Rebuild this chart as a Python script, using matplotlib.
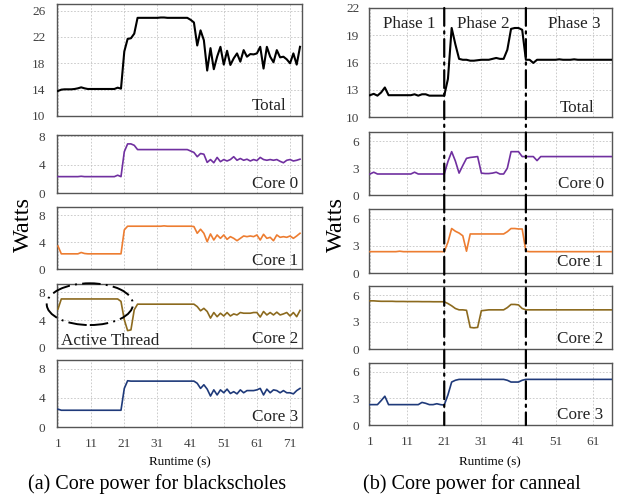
import matplotlib
matplotlib.use("Agg")
import matplotlib.pyplot as plt
from matplotlib.patches import Ellipse, ConnectionPatch

plt.rcParams['font.family'] = ['Liberation Serif', 'DejaVu Serif']

# ---- data: blackscholes (1 sample per second) ----
bs_time = list(range(1, 75))
bs_total = [13.8, 14.0, 14.05, 14.05, 14.05, 14.1, 14.2, 14.35, 14.2, 14.1,
            14.1, 14.1, 14.1, 14.1, 14.1, 14.1, 14.1, 14.1, 14.3, 14.15,
            19.8, 21.7, 21.8, 22.5, 24.9, 24.9, 24.9, 24.9, 24.9, 24.9,
            24.9, 24.95, 24.95, 24.9, 24.9, 24.9, 24.9, 24.9, 24.9, 24.9,
            24.6, 24.2, 20.7, 23.0, 21.5, 16.9, 20.3, 17.1, 19.0, 20.5,
            17.8, 19.9, 17.75, 18.75, 19.5, 18.25, 20.0, 19.0, 19.4, 19.35,
            19.5, 20.5, 17.2, 20.5, 19.0, 18.15, 20.0, 18.9, 19.0, 18.6,
            18.0, 19.5, 17.8, 20.5]
bs_core0 = [2.3, 2.3, 2.3, 2.3, 2.3, 2.3, 2.3, 2.35, 2.3, 2.3,
            2.3, 2.3, 2.3, 2.3, 2.3, 2.3, 2.3, 2.3, 2.5, 2.3,
            5.8, 6.9, 6.9, 6.7, 6.1, 6.1, 6.1, 6.1, 6.1, 6.1,
            6.1, 6.1, 6.1, 6.1, 6.1, 6.1, 6.1, 6.1, 6.1, 6.1,
            5.9, 5.7, 5.1, 5.55, 5.45, 4.3, 4.7, 4.25, 5.0, 4.4,
            4.7, 4.5, 4.7, 5.1, 4.6, 4.85, 4.6, 4.75, 4.5, 4.7,
            4.55, 5.0, 4.7, 4.6, 4.7, 4.6, 4.7, 4.45, 4.25, 4.6,
            4.7, 4.5, 4.6, 4.75]
bs_core1 = [3.4, 2.25, 2.25, 2.25, 2.25, 2.25, 2.25, 2.45, 2.3, 2.25,
            2.25, 2.25, 2.25, 2.25, 2.25, 2.25, 2.25, 2.25, 2.25, 2.25,
            5.8, 6.35, 6.35, 6.35, 6.35, 6.35, 6.35, 6.35, 6.35, 6.35,
            6.35, 6.35, 6.4, 6.35, 6.35, 6.35, 6.35, 6.35, 6.35, 6.35,
            6.35, 6.3, 5.3, 5.9, 5.3, 4.05, 5.2, 4.3, 5.05, 4.55,
            5.05, 4.4, 4.8, 4.55, 4.2, 4.55, 4.9, 4.8, 4.9, 4.8,
            5.05, 4.3, 5.15, 4.55, 4.7, 4.2, 5.05, 4.7, 4.8, 4.7,
            4.9, 4.55, 4.9, 5.3]
bs_core2 = [5.6, 7.05, 7.05, 7.05, 7.05, 7.05, 7.05, 7.05, 7.05, 7.05,
            7.05, 7.05, 7.05, 7.05, 7.05, 7.05, 7.05, 7.05, 7.05, 6.7,
            4.05, 2.5, 2.6, 5.5, 6.3, 6.3, 6.3, 6.3, 6.3, 6.3,
            6.3, 6.3, 6.3, 6.3, 6.3, 6.3, 6.3, 6.3, 6.3, 6.3,
            6.3, 6.3, 5.95, 5.35, 5.7, 5.25, 4.3, 5.1, 4.5, 5.0,
            4.6, 5.1, 4.6, 4.9, 4.75, 5.1, 5.0, 5.0, 5.0, 5.1,
            5.1, 4.45, 5.25, 4.75, 5.1, 4.75, 5.15, 4.75, 4.9, 5.1,
            4.6, 5.1, 4.5, 5.4]
bs_core3 = [2.45, 2.3, 2.3, 2.3, 2.3, 2.3, 2.3, 2.3, 2.3, 2.3,
            2.3, 2.3, 2.3, 2.3, 2.3, 2.3, 2.3, 2.3, 2.3, 2.3,
            5.3, 6.35, 6.3, 6.3, 6.3, 6.3, 6.3, 6.3, 6.3, 6.3,
            6.3, 6.3, 6.3, 6.3, 6.3, 6.3, 6.3, 6.3, 6.3, 6.3,
            6.3, 6.3, 6.0, 5.3, 5.8, 5.2, 4.25, 5.1, 4.4, 5.1,
            4.7, 5.2, 4.6, 4.85, 4.55, 5.1, 4.7, 5.0, 5.0, 5.0,
            5.1, 5.3, 4.4, 5.2, 4.7, 5.1, 5.0, 4.7, 5.0, 4.7,
            4.7, 4.55, 5.0, 5.3]

# ---- data: canneal ----
cn_time = list(range(1, 67))
cn_total = [12.4, 12.55, 12.35, 12.7, 13.25, 12.4, 12.4, 12.4, 12.4, 12.4,
            12.4, 12.4, 12.5, 12.35, 12.5, 12.5, 12.35, 12.35, 12.35, 12.35,
            12.35, 14.2, 19.8, 18.0, 16.4, 16.3, 16.3, 16.2, 16.2, 16.25,
            16.3, 16.3, 16.3, 16.4, 16.5, 16.4, 16.4, 17.4, 19.7, 19.8,
            19.8, 19.6, 16.3, 16.3, 15.95, 16.3, 16.3, 16.3, 16.3, 16.3,
            16.3, 16.35, 16.3, 16.3, 16.3, 16.35, 16.3, 16.3, 16.3, 16.3,
            16.3, 16.3, 16.3, 16.3, 16.3, 16.3]
cn_core0 = [2.35, 2.55, 2.35, 2.35, 2.35, 2.35, 2.35, 2.35, 2.35, 2.35,
            2.35, 2.35, 2.55, 2.35, 2.35, 2.35, 2.35, 2.35, 2.35, 2.35,
            2.35, 3.75, 4.85, 3.8, 2.45, 3.3, 4.1, 4.2, 4.25, 4.3,
            2.45, 2.4, 2.4, 2.45, 2.55, 2.35, 2.35, 3.0, 4.85, 4.85,
            4.85, 4.3, 4.3, 4.3, 4.3, 3.85, 4.3, 4.3, 4.3, 4.3,
            4.3, 4.3, 4.3, 4.3, 4.3, 4.3, 4.3, 4.3, 4.3, 4.3,
            4.3, 4.3, 4.3, 4.3, 4.3, 4.3]
cn_core1 = [2.35, 2.35, 2.35, 2.35, 2.35, 2.35, 2.35, 2.35, 2.4, 2.35,
            2.35, 2.35, 2.35, 2.35, 2.35, 2.35, 2.35, 2.35, 2.35, 2.35,
            2.35, 3.4, 4.9, 4.6, 4.4, 4.1, 2.4, 4.3, 4.3, 4.3,
            4.3, 4.3, 4.3, 4.3, 4.3, 4.3, 4.3, 4.55, 4.9, 4.9,
            4.85, 4.85, 2.4, 2.35, 2.35, 2.35, 2.35, 2.35, 2.35, 2.35,
            2.35, 2.35, 2.35, 2.35, 2.35, 2.35, 2.35, 2.35, 2.35, 2.35,
            2.35, 2.35, 2.35, 2.35, 2.35, 2.35]
cn_core2 = [5.35, 5.35, 5.32, 5.3, 5.3, 5.3, 5.3, 5.28, 5.28, 5.28,
            5.27, 5.27, 5.27, 5.27, 5.26, 5.26, 5.26, 5.25, 5.25, 5.25,
            5.25, 5.05, 4.8, 4.5, 4.35, 4.35, 4.3, 2.4, 2.35, 2.4,
            4.25, 4.3, 4.35, 4.35, 4.35, 4.35, 4.35, 4.6, 4.95, 4.95,
            4.9, 4.5, 4.35, 4.35, 4.35, 4.35, 4.35, 4.35, 4.35, 4.35,
            4.35, 4.35, 4.35, 4.35, 4.35, 4.35, 4.35, 4.35, 4.35, 4.35,
            4.35, 4.35, 4.35, 4.35, 4.35, 4.35]
cn_core3 = [2.3, 2.3, 2.3, 2.75, 3.25, 2.3, 2.3, 2.3, 2.3, 2.3,
            2.3, 2.3, 2.3, 2.3, 2.55, 2.45, 2.3, 2.3, 2.4, 2.3,
            2.25, 3.4, 4.85, 5.05, 5.15, 5.15, 5.15, 5.15, 5.15, 5.15,
            5.15, 5.15, 5.15, 5.15, 5.15, 5.15, 5.15, 5.05, 4.85, 4.85,
            4.85, 5.05, 5.15, 5.15, 5.15, 5.15, 5.15, 5.15, 5.15, 5.15,
            5.15, 5.15, 5.15, 5.15, 5.15, 5.15, 5.15, 5.15, 5.15, 5.15,
            5.15, 5.15, 5.15, 5.15, 5.15, 5.15]

panel_names = ['Total', 'Core 0', 'Core 1', 'Core 2', 'Core 3']
colors = ['black', '#7030A0', '#ED7D31', '#8C6A1E', '#1F3A7A']
bs_series = [bs_total, bs_core0, bs_core1, bs_core2, bs_core3]
cn_series = [cn_total, cn_core0, cn_core1, cn_core2, cn_core3]
bs_yticks = [[10, 14, 18, 22, 26], [0, 4, 8], [0, 4, 8], [0, 4, 8], [0, 4, 8]]
cn_yticks = [[10, 13, 16, 19, 22], [0, 3, 6], [0, 3, 6], [0, 3, 6], [0, 3, 6]]
xticks = [1, 11, 21, 31, 41, 51, 61, 71]
phase_bounds = [21, 43]
phase_labels = ['Phase 1', 'Phase 2', 'Phase 3']
phase_x = [11.5, 31.6, 56]

W, H = 619, 500
fig = plt.figure(figsize=(W / 100, H / 100), dpi=100)

# panel boxes in pixels: (top, bottom)
bs_rows = [(4, 116), (135, 193), (207, 269), (284, 348), (360, 427)]
cn_rows = [(8, 117), (132, 195), (209, 273), (286, 349), (363, 425)]
bs_ylim = [(10, 27), (0, 8.15), (0, 9.2), (0, 9.2), (0, 9.2)]
cn_ylim = [(10, 22), (0, 7.05), (0, 7.05), (0, 7.0), (0, 7.0)]
bs_lab_off = [(15, 6), (4, 5), (4, 4), (4, 5), (4, 6)]
cn_lab_off = [(18, 5), (8, 7), (9, 7), (9, 6), (9, 6)]


def make_col(x0, x1, rows, xlim, ylims, series, times, yticks, lab_off, ypad):
    axes = []
    for i, (top, bot) in enumerate(rows):
        ax = fig.add_axes([x0 / W, 1 - bot / H, (x1 - x0) / W, (bot - top) / H])
        ax.plot(times, series[i], color=colors[i], lw=1.5 if i == 0 else 1.2,
                zorder=3)
        ax.set_xlim(*xlim)
        ax.set_ylim(*ylims[i])
        ax.set_yticks(yticks[i])
        ax.set_xticks([t for t in xticks if t <= xlim[1]])
        ax.grid(True, color='#c4c4c4', lw=0.6, ls=(0, (2, 2)))
        ax.tick_params(length=0, labelsize=9.5, colors='#404040', pad=ypad)
        ax.tick_params(axis='x', pad=8)
        if i < len(rows) - 1:
            ax.set_xticklabels([])
        for s in ax.spines.values():
            s.set_color('#555555')
            s.set_linewidth(1.0)
        dx, dy = lab_off[i]
        ax.annotate(panel_names[i], xy=(1, 0), xycoords='axes fraction',
                    xytext=(-dx * 0.72, dy * 0.72), textcoords='offset points',
                    ha='right', va='baseline', fontsize=12.3, color='#222222')
        axes.append(ax)
    return axes


bs_axes = make_col(57, 302, bs_rows, (0.7, 74.6), bs_ylim, bs_series, bs_time,
                   bs_yticks, bs_lab_off, 8.5)
cn_axes = make_col(369, 612, cn_rows, (0.73, 66.2), cn_ylim, cn_series, cn_time,
                   cn_yticks, cn_lab_off, 7)

# active thread marker on blackscholes core 2
ax2 = bs_axes[3]
ax2.add_patch(Ellipse((10.6, 6.3), 26, 6.0, fill=False, ec='black', lw=1.4,
                      ls=(0, (9.5, 2.7, 1, 2.7)), clip_on=False, zorder=4))
ax2.annotate('Active Thread', xy=(0, 0), xycoords='axes fraction',
             xytext=(3, 2.2), textcoords='offset points', ha='left',
             va='baseline', fontsize=12.3, color='#222222')

# phase boundaries for canneal
for xb in phase_bounds:
    con = ConnectionPatch(xyA=(xb, cn_ylim[0][1]), coordsA=cn_axes[0].transData,
                          xyB=(xb, 0), coordsB=cn_axes[-1].transData,
                          color='black', lw=1.6, ls=(0, (8, 2.5, 1, 2.5)), zorder=5)
    fig.add_artist(con)
for px, lab in zip(phase_x, phase_labels):
    cn_axes[0].text(px, 19.8, lab, ha='center', va='baseline', fontsize=12.3,
                    color='#222222')

fig.text(23 / W, 1 - 224 / H, 'Watts', rotation=90, ha='center', va='center',
         fontsize=17.5)
fig.text(336 / W, 1 - 224 / H, 'Watts', rotation=90, ha='center', va='center',
         fontsize=17.5)
fig.text(180 / W, 1 - 462 / H, 'Runtime (s)', ha='center', va='center',
         fontsize=9.4)
fig.text(490 / W, 1 - 462 / H, 'Runtime (s)', ha='center', va='center',
         fontsize=9.4)
fig.text(157 / W, 1 - 484 / H, '(a) Core power for blackscholes', ha='center',
         va='center', fontsize=14.5)
fig.text(472 / W, 1 - 484 / H, '(b) Core power for canneal', ha='center',
         va='center', fontsize=14.5)

fig.savefig('out.png', dpi=100)
